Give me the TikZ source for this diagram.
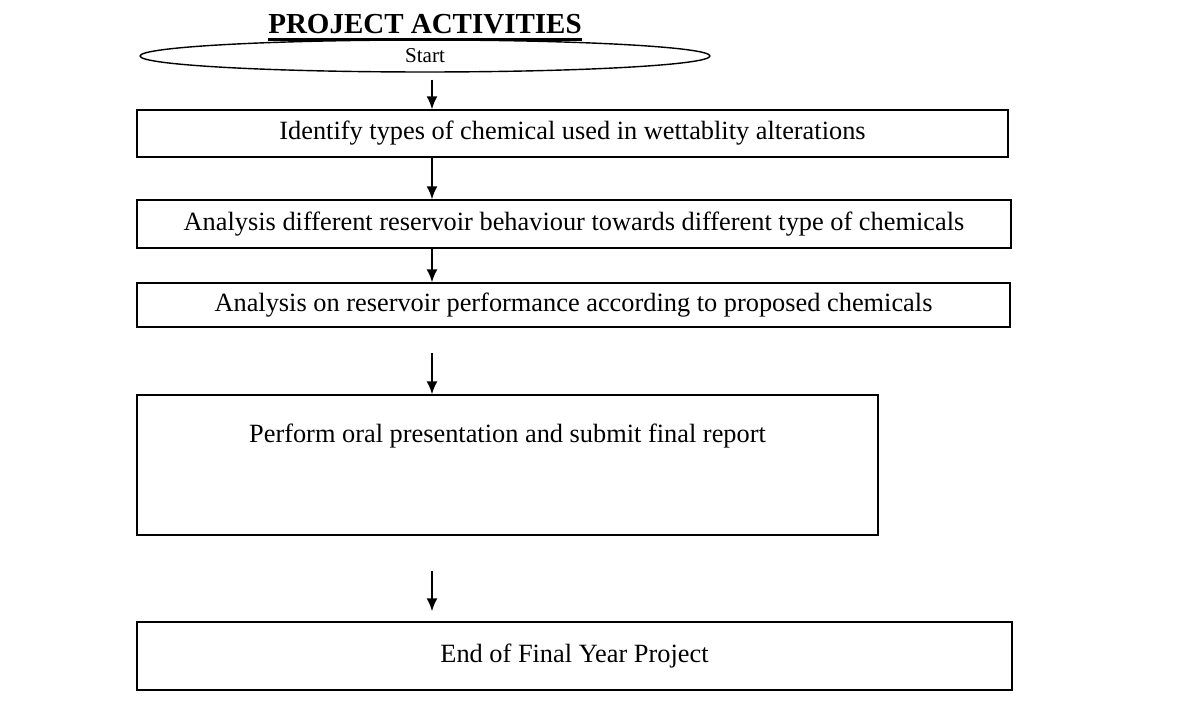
\documentclass[tikz,border=0pt]{standalone}
\usepackage{fontspec}
\setmainfont{Liberation Serif}
\usetikzlibrary{arrows.meta,positioning,shapes.geometric}
\tikzset{
  heading/.style={font=\fontsize{16.5}{19}\selectfont\bfseries,text=black,inner sep=0pt},
  startoval/.style={ellipse,draw=black,line width=0.8pt,minimum width=11.4cm,minimum height=0.64cm,inner sep=0pt,font=\fontsize{12}{14}\selectfont},
  stepbox/.style={rectangle,draw=black,line width=0.8pt,inner sep=0pt,align=center,font=\fontsize{15}{18}\selectfont},
  flow/.style={-{Latex[length=2.6mm,width=2.2mm]},line width=1pt},
}
\begin{document}
\begin{tikzpicture}[x=0.02cm,y=-0.02cm]
  \useasboundingbox (0,0) rectangle (1187,722);
  \coordinate (spine) at (432,0);
  \node[heading] (title) at (425,24) {PROJECT ACTIVITIES};
  \draw[line width=1.6pt] ([yshift=-3.5pt]title.base west) -- ([yshift=-3.5pt]title.base east);
  \node[startoval] (start) at (425,56) {Start};
  \node[stepbox,minimum width=17.42cm,minimum height=0.94cm] (identify) at (572.5,133.5)
    {Identify types of chemical used in wettablity alterations};
  \node[stepbox,minimum width=17.48cm,minimum height=0.96cm] (behaviour) at (574,224)
    {Analysis different reservoir behaviour towards different type of chemicals};
  \node[stepbox,minimum width=17.46cm,minimum height=0.88cm] (performance) at (573.5,305)
    {Analysis on reservoir performance according to proposed chemicals};
  \node[stepbox,minimum width=14.82cm,minimum height=2.8cm,text height=0.94cm,text depth=1.86cm] (report) at (507.5,465)
    {Perform oral presentation and submit final report};
  \node[stepbox,minimum width=17.5cm,minimum height=1.36cm] (finish) at (574.5,656)
    {End of Final Year Project};
  % arrows down the left spine
  \draw[flow,shorten <=4pt] (start.south -| spine) -- (identify.north -| spine);
  \draw[flow] (identify.south -| spine) -- (behaviour.north -| spine);
  \draw[flow] (behaviour.south -| spine) -- (performance.north -| spine);
  \draw[flow,shorten <=0.5cm] (performance.south -| spine) -- (report.north -| spine);
  \draw[flow,shorten <=0.7cm,shorten >=0.2cm] (report.south -| spine) -- (finish.north -| spine);
\end{tikzpicture}
\end{document}
